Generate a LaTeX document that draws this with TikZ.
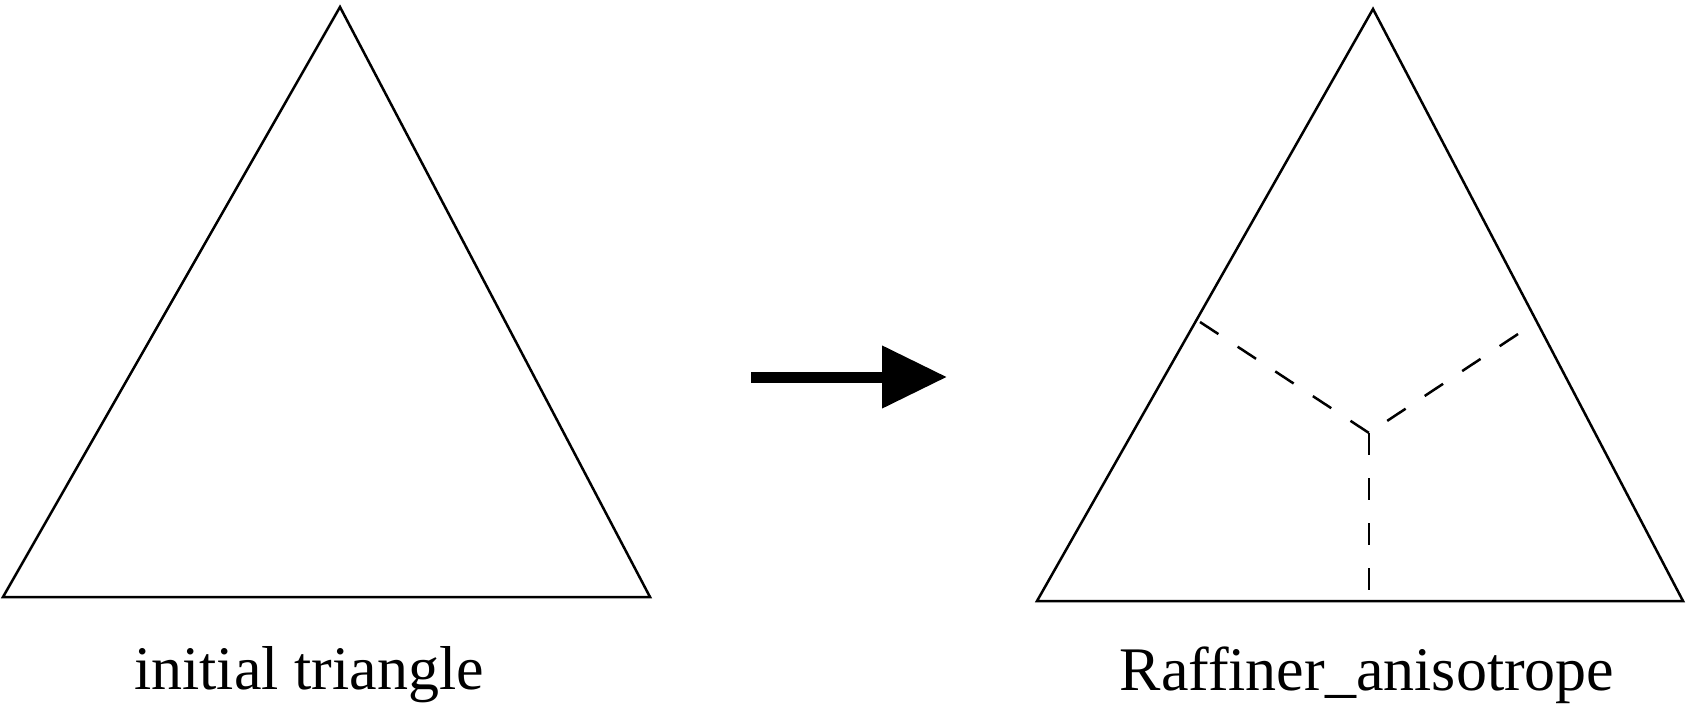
\documentclass[tikz,border=0pt]{standalone}
\usepackage{fontspec}
\setmainfont{Liberation Serif}
\usepackage{tikz}
\usetikzlibrary{arrows.meta}

\begin{document}
\begin{tikzpicture}[x=1pt, y=-1pt,
        edge/.style={line width=2.5pt, line join=miter},
        split/.style={line width=2.5pt, dash pattern=on 22pt off 23pt},
        caption/.style={anchor=base, inner sep=0pt, font=\fontsize{62}{72}\selectfont}]
        \useasboundingbox (0,0) rectangle (1688,708);

        % initial triangle
        \coordinate (a1) at (3,597);
        \coordinate (b1) at (650,597);
        \coordinate (c1) at (340,7);
        \draw[edge] (a1) -- (b1) -- (c1) -- cycle;
        \node[caption] (lab1) at (309,689) {initial triangle};

        % arrow
        \coordinate (p) at (751,377);
        \coordinate (q) at (947,377);
        \draw[line width=11pt, -{Triangle[length=65pt, width=60pt]}] (p) -- (q);

        % refined triangle
        \coordinate (a2) at (1037,601);
        \coordinate (b2) at (1683,601);
        \coordinate (c2) at (1373,9);
        \draw[edge] (a2) -- (b2) -- (c2) -- cycle;

        \coordinate (o) at (1369,433);
        \coordinate (m1) at (1200,322);
        \coordinate (m2) at (1518,334);
        \coordinate (m3) at (1369,592);
        \draw[split] (m1) -- (o);
        \draw[split] (m2) -- (o);
        \draw[split] (o) -- (m3);
        \node[caption] (lab2) at (1367,690) {Raffiner\_anisotrope};
    \end{tikzpicture}
\end{document}
